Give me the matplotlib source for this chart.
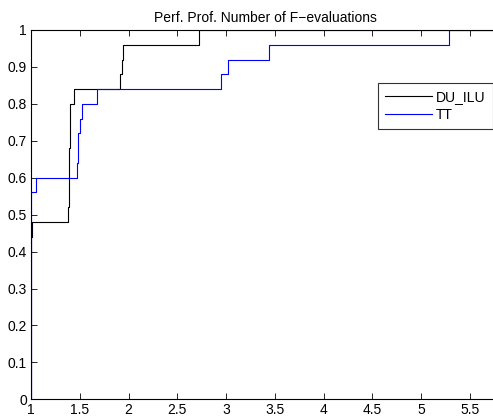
import matplotlib
matplotlib.use('Agg')
import matplotlib.pyplot as plt

plt.rcParams['font.family'] = ['Liberation Sans', 'DejaVu Sans']

# performance ratio tau and fraction of problems (step points)
du_ilu_x = [1.0, 1.0, 1.007, 1.376, 1.39, 1.40, 1.437, 1.91, 1.93, 1.94, 2.72]
du_ilu_y = [0.0, 0.44, 0.48, 0.52, 0.68, 0.80, 0.84, 0.88, 0.92, 0.96, 1.00]

tt_x = [1.0, 1.0, 1.054, 1.468, 1.478, 1.502, 1.519, 1.673, 2.944, 3.022, 3.446, 5.285]
tt_y = [0.0, 0.56, 0.60, 0.64, 0.72, 0.76, 0.80, 0.84, 0.88, 0.92, 0.96, 1.00]

x_end = 5.8

fig = plt.figure(figsize=(4.93, 4.18), dpi=100)
ax = fig.add_axes([31 / 493, 18.7 / 418, 468 / 493, 369.3 / 418])

ax.step(du_ilu_x + [x_end], du_ilu_y + [du_ilu_y[-1]], where='post',
        color='black', lw=0.8, label='DU_ILU')
ax.step(tt_x + [x_end], tt_y + [tt_y[-1]], where='post',
        color='blue', lw=0.8, label='TT')

ax.set_xlim(1, x_end)
ax.set_ylim(0, 1)
ax.set_xticks([1, 1.5, 2, 2.5, 3, 3.5, 4, 4.5, 5, 5.5])
ax.set_xticklabels(['1', '1.5', '2', '2.5', '3', '3.5', '4', '4.5', '5', '5.5'])
ax.set_yticks([i / 10 for i in range(11)])
ax.set_yticklabels(['0', '0.1', '0.2', '0.3', '0.4', '0.5', '0.6', '0.7', '0.8', '0.9', '1'])
ax.tick_params(direction='in', top=True, right=True, length=4, width=0.6,
               labelsize=10, pad=3)
for s in ax.spines.values():
    s.set_linewidth(0.8)

ax.set_title('Perf. Prof. Number of F\u2212evaluations', fontsize=10, pad=6)

leg = ax.legend(loc='upper left', bbox_to_anchor=((377.7 - 31) / 468, (399.3 - 83) / 369.3),
                fontsize=10, frameon=True, fancybox=False, handlelength=3.4,
                borderpad=0.5, labelspacing=0.3, handletextpad=0.3, borderaxespad=0)
leg.get_frame().set_edgecolor('black')
leg.get_frame().set_linewidth(0.8)

fig.savefig('out.png', dpi=100)
